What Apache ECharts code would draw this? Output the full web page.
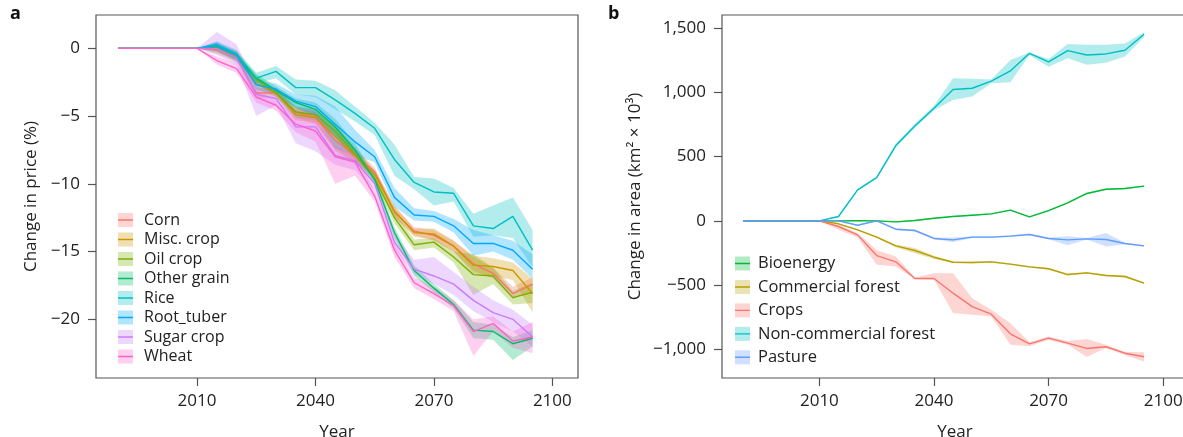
<!DOCTYPE html>
<html>
<head>
<meta charset="utf-8">
<script src="https://cdn.jsdelivr.net/npm/echarts@6/dist/echarts.min.js"></script>
<style>
html, body { margin: 0; padding: 0; background: #fff; }
#chart { width: 1183px; height: 437px; }
</style>
</head>
<body>
<div id="chart"></div>
<script>
// years shared by both panels (flat until 2010)
var years = [1990, 2010, 2015, 2020, 2025, 2030, 2035, 2040, 2045, 2050, 2055, 2060, 2065, 2070, 2075, 2080, 2085, 2090, 2095];

// panel a: change in price (%)
var cropNames = ['Corn', 'Misc. crop', 'Oil crop', 'Other grain', 'Rice', 'Root_tuber', 'Sugar crop', 'Wheat'];
var cropColors = ['#F8766D', '#CD9600', '#7CAE00', '#00BE67', '#00BFC4', '#00A9FF', '#C77CFF', '#FF61CC'];

var cornMid = [0, 0, -0.1, -0.7, -3.3, -3.3, -4.7, -5.1, -6.8, -7.9, -9.1, -12.1, -13.5, -13.8, -14.6, -15.9, -16.6, -18.1, -17.4];
var cornHi = [0, 0, 0.2, -0.4, -2.9, -3.0, -4.3, -4.6, -6.2, -7.4, -8.8, -11.7, -13.2, -13.4, -14.2, -15.4, -16.2, -17.6, -16.9];
var cornLo = [0, 0, -0.4, -1.0, -3.7, -3.6, -5.1, -5.6, -7.4, -8.4, -9.4, -12.5, -13.8, -14.2, -15.0, -16.4, -17.0, -18.5, -17.9];

var miscMid = [0, 0, 0.1, -0.6, -2.6, -3.3, -4.9, -5.1, -6.5, -7.9, -9.3, -12.0, -13.6, -13.7, -14.6, -16.0, -16.1, -16.4, -18.1];
var miscHi = [0, 0, 0.4, -0.3, -2.2, -3.0, -4.5, -4.7, -5.6, -7.3, -9.0, -11.6, -13.3, -13.3, -14.2, -15.3, -15.5, -15.8, -17.0];
var miscLo = [0, 0, -0.2, -0.9, -3.0, -3.6, -5.3, -5.5, -7.6, -8.4, -9.6, -12.4, -13.9, -14.1, -15.0, -16.6, -16.8, -17.1, -19.5];

var oilMid = [0, 0, 0, -0.5, -2.3, -3.3, -4.7, -4.9, -6.1, -7.8, -9.6, -12.5, -14.5, -14.3, -15.4, -16.7, -16.8, -18.4, -18.0];
var oilHi = [0, 0, 0.3, -0.2, -2.0, -3.0, -4.3, -4.5, -5.7, -7.4, -9.3, -12.1, -14.1, -14.0, -15.0, -15.2, -16.2, -17.9, -17.3];
var oilLo = [0, 0, -0.3, -0.8, -2.6, -3.6, -5.1, -5.3, -6.5, -8.2, -9.9, -12.9, -14.9, -14.7, -15.8, -18.2, -17.4, -18.9, -18.8];

var grainMid = [0, 0, 0.1, -0.7, -2.2, -3.1, -4.0, -4.5, -5.8, -7.5, -9.7, -13.6, -16.4, -17.7, -18.9, -20.8, -20.9, -21.8, -21.4];
var grainHi = [0, 0, 0.4, -0.4, -1.9, -2.8, -3.7, -4.0, -5.2, -7.0, -9.4, -13.2, -16.0, -17.4, -18.6, -20.2, -20.4, -21.3, -20.8];
var grainLo = [0, 0, -0.2, -1.0, -2.5, -3.4, -4.4, -5.0, -6.4, -8.0, -10.0, -14.0, -16.8, -18.0, -19.2, -21.4, -21.5, -23.0, -22.0];

var riceMid = [0, 0, 0.3, -0.4, -2.2, -1.7, -2.9, -2.9, -3.8, -4.8, -5.9, -8.2, -9.9, -10.6, -10.7, -13.1, -13.3, -12.4, -14.9];
var riceHi = [0, 0, 0.5, -0.1, -1.8, -1.3, -2.3, -2.4, -3.1, -4.3, -5.5, -7.1, -9.5, -9.6, -10.3, -12.2, -11.6, -11.0, -13.4];
var riceLo = [0, 0, 0.0, -0.7, -2.6, -2.2, -3.4, -3.6, -4.5, -5.4, -6.4, -9.4, -10.4, -11.6, -11.3, -13.9, -13.8, -14.0, -16.2];

var rootMid = [0, 0, 0.2, -0.5, -2.7, -3.0, -3.9, -4.3, -5.6, -6.9, -8.0, -11.0, -12.3, -12.4, -13.1, -14.4, -14.4, -14.9, -16.3];
var rootHi = [0, 0, 0.5, -0.2, -2.3, -2.6, -3.4, -3.5, -4.3, -6.0, -7.5, -10.3, -11.8, -12.0, -12.6, -13.4, -13.8, -14.2, -15.2];
var rootLo = [0, 0, -0.1, -0.8, -3.1, -3.4, -4.4, -5.0, -7.4, -7.9, -8.4, -11.7, -12.7, -12.8, -13.6, -15.3, -15.0, -15.6, -17.0];

var sugarMid = [0, 0, 0, -0.7, -3.4, -3.7, -5.8, -5.8, -7.9, -8.3, -10.0, -14.3, -16.3, -16.8, -17.4, -18.6, -19.5, -20.0, -21.3];
var sugarHi = [0, 0, 1.2, 0.3, -2.8, -3.2, -4.5, -4.6, -6.8, -7.6, -9.5, -13.8, -15.6, -15.4, -16.5, -17.6, -18.6, -19.3, -20.4];
var sugarLo = [0, 0, -0.5, -1.2, -5.0, -4.2, -7.0, -7.6, -8.6, -9.0, -10.5, -14.8, -16.7, -17.4, -18.2, -19.4, -20.2, -20.9, -22.0];

var wheatMid = [0, 0, -0.9, -1.5, -3.6, -4.2, -5.6, -6.1, -8.0, -8.4, -10.9, -14.9, -17.3, -18.1, -19.0, -20.9, -20.3, -21.6, -21.3];
var wheatHi = [0, 0, -0.6, -1.1, -3.1, -3.8, -5.0, -5.2, -7.2, -7.9, -10.5, -14.4, -16.9, -17.6, -18.6, -20.0, -19.8, -20.9, -20.2];
var wheatLo = [0, 0, -1.2, -1.8, -4.0, -4.6, -6.2, -6.9, -10.0, -9.4, -11.3, -15.4, -17.7, -18.5, -19.4, -22.7, -20.9, -22.1, -22.5];

var cropMid = [cornMid, miscMid, oilMid, grainMid, riceMid, rootMid, sugarMid, wheatMid];
var cropHi = [cornHi, miscHi, oilHi, grainHi, riceHi, rootHi, sugarHi, wheatHi];
var cropLo = [cornLo, miscLo, oilLo, grainLo, riceLo, rootLo, sugarLo, wheatLo];

// panel b: change in area (km2 x 10^3)
var landNames = ['Bioenergy', 'Commercial forest', 'Crops', 'Non-commercial forest', 'Pasture'];
var landColors = ['#00BA38', '#B79F00', '#F8766D', '#00BFC4', '#619CFF'];

var bioMid = [0, 0, 0, 2, 0, -8, 3, 20, 34, 44, 54, 83, 31, 80, 140, 213, 246, 252, 270];
var bioHi = [0, 0, 5, 7, 5, -3, 8, 25, 39, 49, 59, 88, 36, 86, 146, 219, 252, 258, 276];
var bioLo = [0, 0, -5, -3, -5, -13, -2, 15, 29, 39, 49, 78, 26, 74, 134, 207, 240, 246, 264];

var comMid = [0, 0, -23, -70, -127, -195, -231, -283, -322, -324, -319, -337, -358, -373, -418, -405, -425, -433, -485];
var comHi = [0, 0, -18, -64, -120, -185, -212, -272, -316, -318, -313, -331, -352, -367, -410, -398, -418, -426, -478];
var comLo = [0, 0, -28, -76, -134, -205, -252, -296, -328, -331, -326, -343, -364, -380, -425, -412, -432, -440, -492];

var cropsMid = [0, 0, -44, -109, -270, -319, -449, -449, -563, -667, -726, -879, -957, -913, -952, -993, -980, -1030, -1058];
var cropsHi = [0, 0, -30, -95, -226, -277, -440, -407, -407, -602, -692, -796, -945, -900, -935, -920, -965, -1020, -1022];
var cropsLo = [0, 0, -70, -130, -342, -355, -455, -459, -718, -731, -744, -965, -975, -925, -965, -1060, -990, -1045, -1094];

var ncfMid = [0, 0, 34, 241, 337, 586, 739, 877, 1022, 1032, 1087, 1167, 1304, 1237, 1325, 1291, 1299, 1328, 1452];
var ncfHi = [0, 0, 40, 248, 345, 600, 755, 895, 1110, 1105, 1100, 1252, 1310, 1260, 1377, 1370, 1370, 1380, 1470];
var ncfLo = [0, 0, 28, 235, 330, 570, 725, 860, 941, 967, 1070, 1079, 1290, 1200, 1265, 1215, 1230, 1280, 1430];

var pastMid = [0, 0, 0, -34, 0, -65, -75, -137, -148, -127, -127, -119, -106, -137, -148, -140, -145, -176, -195];
var pastHi = [0, 0, 4, -28, 6, -58, -68, -130, -130, -120, -120, -112, -100, -130, -120, -134, -95, -170, -189];
var pastLo = [0, 0, -4, -40, -6, -72, -82, -144, -165, -134, -134, -126, -112, -144, -190, -146, -200, -182, -201];

var landMid = [bioMid, comMid, cropsMid, ncfMid, pastMid];
var landHi = [bioHi, comHi, cropsHi, ncfHi, pastHi];
var landLo = [bioLo, comLo, cropsLo, ncfLo, pastLo];

var xTicks = [2010, 2040, 2070, 2100];
var yTicksA = [-20, -15, -10, -5, 0];
var yTicksB = [-1000, -500, 0, 500, 1000, 1500];

var FONT = '"Open Sans", "DejaVu Sans", sans-serif';
var INK = '#222';
var BOX = '#555';
var LINE_ICON = 'path://M0,0h0.01v0.01h-0.01z M0,6.3H15V7.7H0z M14.99,13.99h0.01v0.01h-0.01z';

function fade(hex, a) {
    var n = parseInt(hex.slice(1), 16);
    return 'rgba(' + (n >> 16) + ',' + ((n >> 8) & 255) + ',' + (n & 255) + ',' + a + ')';
}

function minusFmt(v) {
    return String(v).replace('-', '\u2212');
}

function thousandsFmt(v) {
    var s = String(Math.abs(v)).replace(/\B(?=(\d{3})+(?!\d))/g, ',');
    return (v < 0 ? '\u2212' : '') + s;
}

function bandSeries(name, color, lo, hi, idx) {
    return {
        type: 'custom',
        name: name + ' band',
        xAxisIndex: idx,
        yAxisIndex: idx,
        data: [[years[0], lo[0]]],
        silent: true,
        z: 1,
        itemStyle: { color: fade(color, 0.3) },
        renderItem: function (params, api) {
            var pts = [];
            for (var i = 0; i < years.length; i++) pts.push(api.coord([years[i], hi[i]]));
            for (var j = years.length - 1; j >= 0; j--) pts.push(api.coord([years[j], lo[j]]));
            return { type: 'polygon', shape: { points: pts }, style: { fill: fade(color, 0.3) } };
        }
    };
}

function lineSeries(name, color, mid, idx, z) {
    return {
        type: 'line',
        name: name,
        xAxisIndex: idx,
        yAxisIndex: idx,
        data: years.map(function (y, i) { return [y, mid[i]]; }),
        showSymbol: false,
        silent: true,
        z: z,
        itemStyle: { color: color },
        lineStyle: { color: color, width: 1.4 }
    };
}

function xAxisFor(idx, min, max) {
    return {
        type: 'value', gridIndex: idx, min: min, max: max,
        name: 'Year', nameLocation: 'middle', nameGap: 46,
        nameTextStyle: { fontSize: 17, color: INK, fontFamily: FONT },
        axisLine: { show: false, onZero: false },
        axisTick: { show: true, length: 8, lineStyle: { color: BOX, width: 1.2 }, customValues: xTicks },
        axisLabel: { fontSize: 17, color: INK, fontFamily: FONT, margin: 15, customValues: xTicks,
            formatter: function (v) { return String(v); } },
        splitLine: { show: false }
    };
}

function yAxisFor(idx, min, max, name, gap, ticks, fmt) {
    return {
        type: 'value', gridIndex: idx, min: min, max: max,
        name: name, nameLocation: 'middle', nameGap: gap, nameRotate: 90,
        nameTextStyle: { fontSize: 17, color: INK, fontFamily: FONT },
        axisLine: { show: false, onZero: false },
        axisTick: { show: true, length: 8, lineStyle: { color: BOX, width: 1.2 }, customValues: ticks },
        axisLabel: { fontSize: 17, color: INK, fontFamily: FONT, margin: 16, customValues: ticks, formatter: fmt },
        splitLine: { show: false }
    };
}

function legendPair(names, colors, left, top, gap, textPad, size) {
    var common = {
        orient: 'vertical', left: left, top: top, padding: 0,
        itemWidth: 15, itemHeight: 14, itemGap: gap, selectedMode: false,
        formatter: function (n) { return n.replace(/ band$/, ''); }
    };
    var boxes = Object.assign({}, common, {
        z: 3, icon: 'rect',
        textStyle: { fontSize: size, color: 'transparent', fontFamily: FONT, padding: [0, 0, 0, textPad] },
        data: names.map(function (n, i) {
            return { name: n + ' band', itemStyle: { color: fade(colors[i], 0.3), borderWidth: 0 } };
        })
    });
    var lines = Object.assign({}, common, {
        z: 4, icon: LINE_ICON,
        textStyle: { fontSize: size, color: INK, fontFamily: FONT, padding: [0, 0, 0, textPad] },
        data: names.map(function (n, i) {
            return { name: n, itemStyle: { color: colors[i], borderWidth: 0 } };
        })
    });
    return [boxes, lines];
}

var series = [];
cropNames.forEach(function (n, i) { series.push(bandSeries(n, cropColors[i], cropLo[i], cropHi[i], 0)); });
landNames.forEach(function (n, i) { series.push(bandSeries(n, landColors[i], landLo[i], landHi[i], 1)); });
cropNames.forEach(function (n, i) { series.push(lineSeries(n, cropColors[i], cropMid[i], 0, 3 + i)); });
landNames.forEach(function (n, i) { series.push(lineSeries(n, landColors[i], landMid[i], 1, 3 + i)); });

var chart = echarts.init(document.getElementById('chart'), null, { renderer: 'canvas' });
chart.setOption({
    animation: false,
    backgroundColor: '#fff',
    title: [
        { text: 'a', left: 10, top: 5, padding: 0, textStyle: { fontSize: 18, fontWeight: 'bold', color: '#111', fontFamily: FONT } },
        { text: 'b', left: 608, top: 5, padding: 0, textStyle: { fontSize: 18, fontWeight: 'bold', color: '#111', fontFamily: FONT } }
    ],
    grid: [
        { left: 96, right: 605, top: 15, bottom: 59, show: true, borderColor: BOX, borderWidth: 1.2,
          backgroundColor: 'transparent', outerBoundsMode: 'none', containLabel: false },
        { left: 722, right: -5, top: 15, bottom: 59, show: true, borderColor: BOX, borderWidth: 1.2,
          backgroundColor: 'transparent', outerBoundsMode: 'none', containLabel: false }
    ],
    xAxis: [xAxisFor(0, 1984.4, 2106.5), xAxisFor(1, 1984.5, 2106.5)],
    yAxis: [
        yAxisFor(0, -24.33, 2.46, 'Change in price (%)', 56, yTicksA, minusFmt),
        yAxisFor(1, -1223, 1602, 'Change in area (km\u00b2 \u00d7 10\u00b3)', 78, yTicksB, thousandsFmt)
    ],
    legend: legendPair(cropNames, cropColors, 118, 212, 3.5, 6, 16).concat(legendPair(landNames, landColors, 735, 255, 6.45, 3, 16.5)),
    series: series
});
</script>
</body>
</html>
